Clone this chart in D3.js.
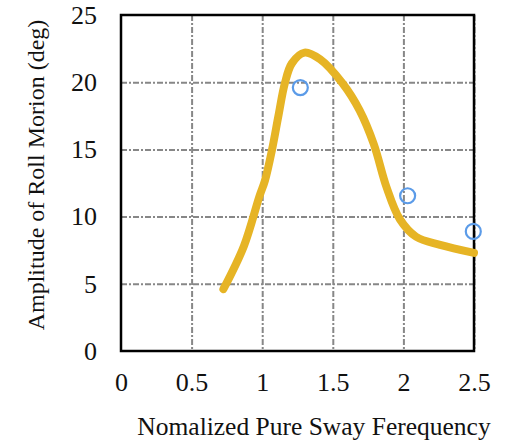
<!DOCTYPE html>
<html>
<head>
<meta charset="utf-8">
<script src="https://cdn.jsdelivr.net/npm/d3@7"></script>
<style>
  body { margin: 0; background: #fff; }
</style>
</head>
<body>
<div id="chart"></div>
<script>
// data
var xTicks = [0, 0.5, 1, 1.5, 2, 2.5];
var yTicks = [0, 5, 10, 15, 20, 25];
var curveX = [0.725, 0.87, 0.98, 1.02, 1.07, 1.115, 1.16, 1.21, 1.30, 1.41, 1.57, 1.69, 1.79, 1.88, 1.975, 2.09, 2.26, 2.5];
var curveY = [4.6, 7.8, 11.5, 12.7, 15.0, 17.5, 19.9, 21.4, 22.2, 21.7, 19.9, 17.9, 15.4, 12.2, 9.8, 8.5, 7.9, 7.3];
var expX = [1.27, 2.03, 2.495];
var expY = [19.6, 11.55, 8.9];

var serif = "'Liberation Serif'";
var W = 505, H = 443;
var margin = { left: 121, top: 15, right: 31, bottom: 92 };
var width = W - margin.left - margin.right;
var height = H - margin.top - margin.bottom;

var svg = d3.select("#chart").append("svg").attr("width", W).attr("height", H);
var chart = svg.append("g").attr("transform", "translate(" + margin.left + "," + margin.top + ")");

var x_scale = d3.scaleLinear().domain([0, 2.5]).range([0, width]);
var y_scale = d3.scaleLinear().domain([0, 25]).range([height, 0]);

// grid lines (dash-dot gray)
chart.append("g")
    .attr("class", "grid")
    .call(d3.axisBottom(x_scale).tickValues(xTicks.slice(1)).tickSize(height).tickFormat(""))
    .call(g => g.select(".domain").remove());
chart.append("g")
    .attr("class", "grid")
    .call(d3.axisLeft(y_scale).tickValues(yTicks.slice(1, 5)).tickSize(-width).tickFormat(""))
    .call(g => g.select(".domain").remove());
chart.selectAll(".grid line")
    .attr("stroke", "#878787")
    .attr("stroke-width", 2)
    .attr("stroke-dasharray", "6,2,2,2");
chart.selectAll(".grid text").remove();

// frame
chart.append("rect")
    .attr("x", 0).attr("y", 0)
    .attr("width", width).attr("height", height)
    .attr("fill", "none")
    .attr("stroke", "#000")
    .attr("stroke-width", 2.5);

// fitted curve
var line = d3.line()
    .x(function (d) { return x_scale(d[0]); })
    .y(function (d) { return y_scale(d[1]); })
    .curve(d3.curveCatmullRom.alpha(0.5));
chart.append("path")
    .datum(curveX.map(function (v, i) { return [v, curveY[i]]; }))
    .attr("d", line)
    .attr("fill", "none")
    .attr("stroke", "#E6B425")
    .attr("stroke-width", 8)
    .attr("stroke-linecap", "round")
    .attr("stroke-linejoin", "round");

// experiment points
chart.selectAll("circle")
    .data(expX.map(function (v, i) { return [v, expY[i]]; }))
    .enter()
    .append("circle")
    .attr("cx", function (d) { return x_scale(d[0]); })
    .attr("cy", function (d) { return y_scale(d[1]); })
    .attr("r", 7.5)
    .attr("fill", "none")
    .attr("stroke", "#5B9BE8")
    .attr("stroke-width", 2.2);

// tick labels
var x_axis = d3.axisBottom(x_scale).tickValues(xTicks).tickSize(0).tickPadding(22).tickFormat(d3.format("~g"));
var y_axis = d3.axisLeft(y_scale).tickValues(yTicks).tickSize(0).tickPadding(24).tickFormat(d3.format("~g"));
chart.append("g")
    .attr("transform", "translate(0," + height + ")")
    .call(x_axis)
    .call(g => g.select(".domain").remove())
    .selectAll("text")
    .style("font-family", serif).style("font-size", "26px").attr("fill", "#111");
chart.append("g")
    .call(y_axis)
    .call(g => g.select(".domain").remove())
    .selectAll("text")
    .style("font-family", serif).style("font-size", "26px").attr("fill", "#111");

// axis labels
svg.append("text")
    .attr("text-anchor", "middle")
    .attr("x", 314)
    .attr("y", 435)
    .style("font-family", serif)
    .style("font-size", "25.5px")
    .attr("fill", "#111")
    .text("Nomalized Pure Sway Ferequency");
svg.append("text")
    .attr("text-anchor", "middle")
    .attr("transform", "translate(44,175) rotate(-90)")
    .style("font-family", serif)
    .style("font-size", "24px")
    .attr("fill", "#111")
    .text("Amplitude of Roll Morion (deg)");
</script>
</body>
</html>
